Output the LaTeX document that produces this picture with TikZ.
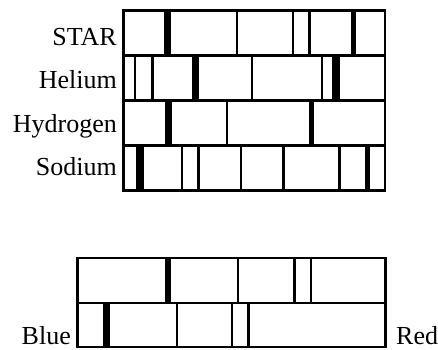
\documentclass[tikz,border=0pt]{standalone}
\usepackage{fontspec}
\setmainfont{Liberation Serif}
\begin{document}
\begin{tikzpicture}[x=1pt,y=-1pt,
  frame/.style={draw=black,line width=2.4pt},
  thinline/.style={draw=black,line width=2.3pt},
  band/.style={fill=black},
  lbl/.style={font=\fontsize{26}{30}\selectfont,inner sep=0pt}]
\useasboundingbox (0,0) rectangle (438,349);
% ---- upper block: STAR row (10.5-55.5)
\foreach \a/\b in {163.5/171,351/356} \fill[band] (\a,10.5) rectangle (\b,55.5);
\foreach \x in {237,293,309.5} \draw[thinline] (\x,10.5) -- (\x,55.5);
% Helium row (55.5-100.5)
\foreach \a/\b in {192/199,332/339.5} \fill[band] (\a,55.5) rectangle (\b,100.5);
\foreach \x in {135,152.5,252,322} \draw[thinline] (\x,55.5) -- (\x,100.5);
% Hydrogen row (100.5-145.5)
\foreach \a/\b in {164.5/171.5,308.5/313.5} \fill[band] (\a,100.5) rectangle (\b,145.5);
\foreach \x in {227} \draw[thinline] (\x,100.5) -- (\x,145.5);
% Sodium row (145.5-190.5)
\foreach \a/\b in {136/143.5,365/370} \fill[band] (\a,145.5) rectangle (\b,190.5);
\foreach \x in {182,198.5,241,283.5,339.5} \draw[thinline] (\x,145.5) -- (\x,190.5);
% frames
\foreach \t/\u in {10.5/55.5,55.5/100.5,100.5/145.5,145.5/190.5}
  \draw[frame] (123.5,\t) rectangle (385,\u);
% ---- lower block: top row (258-303)
\fill[band] (164.5,258) rectangle (171,303);
\foreach \x in {238,294.5,311} \draw[thinline] (\x,258) -- (\x,303);
% bottom row (303-347)
\fill[band] (102.5,303) rectangle (109.5,347);
\foreach \x in {177,232,248.5} \draw[thinline] (\x,303) -- (\x,347);
\foreach \t/\u in {258/303,303/347}
  \draw[frame] (77.5,\t) rectangle (385.5,\u);
% ---- labels
\node[lbl,anchor=base east] (star) at (117,45) {STAR};
\node[lbl,anchor=base east] (helium) at (117,88) {Helium};
\node[lbl,anchor=base east] (hydrogen) at (117,132) {Hydrogen};
\node[lbl,anchor=base east] (sodium) at (117,175) {Sodium};
\node[lbl,anchor=base east] (blue) at (71,344) {Blue};
\node[lbl,anchor=base west] (red) at (396,344) {Red};
\end{tikzpicture}
\end{document}
